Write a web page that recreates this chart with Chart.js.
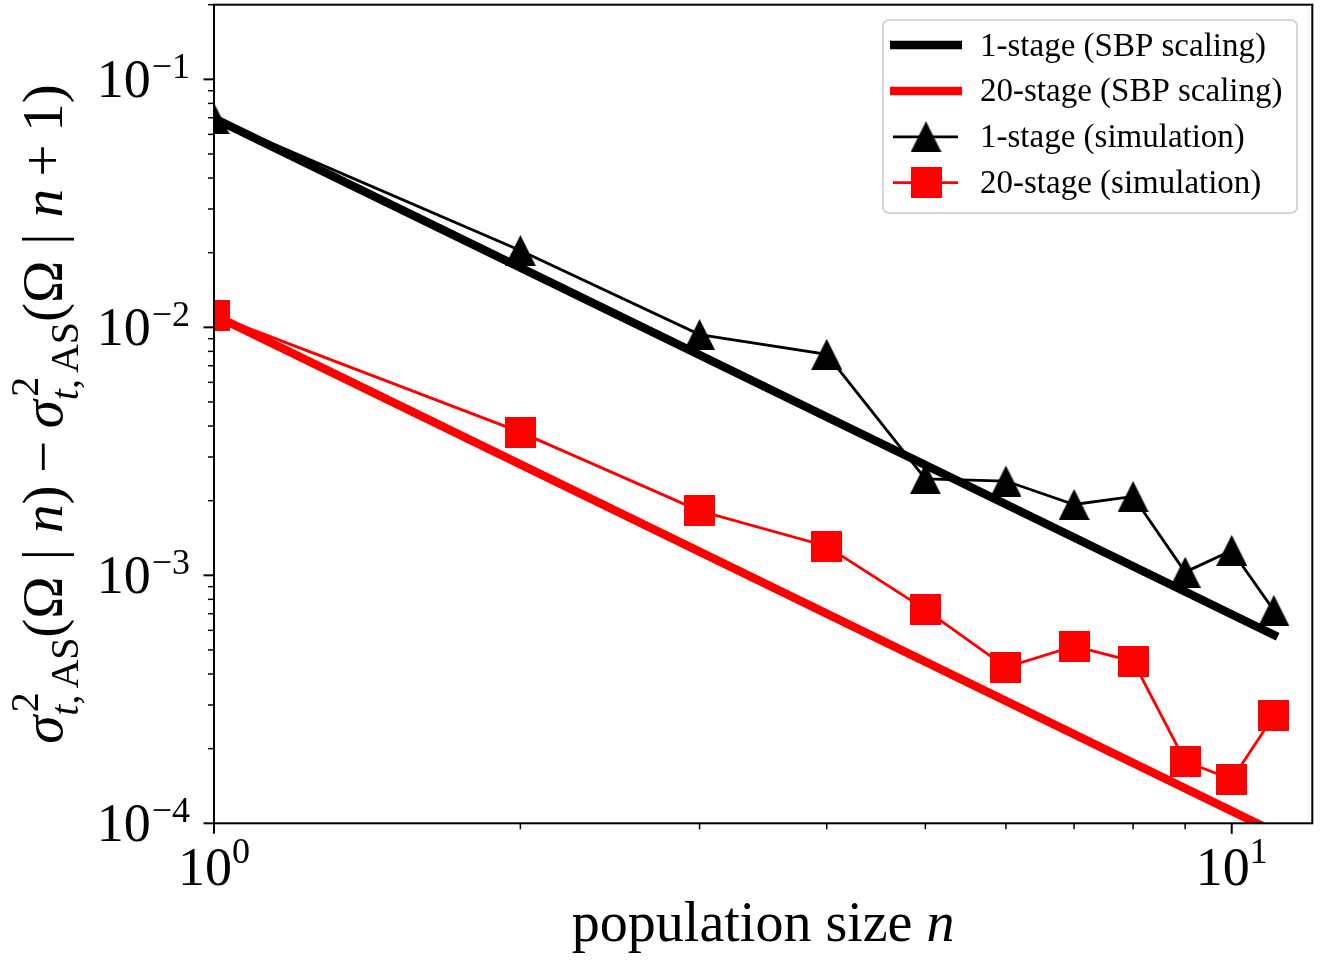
<!DOCTYPE html>
<html>
<head>
<meta charset="utf-8">
<title>population size n</title>
<script src="https://cdn.jsdelivr.net/npm/chart.js@4.4.1/dist/chart.umd.min.js"></script>
<style>
  html, body { margin: 0; padding: 0; background: #fff; }
  #wrap { width: 1323px; height: 960px; }
</style>
</head>
<body>
<div id="wrap"><canvas id="chart" width="1323" height="960"></canvas></div>
<script>
// values (log-log)
const populationSizes = [1, 2, 3, 4, 5, 6, 7, 8, 9, 10, 11];
const sim1Stage = [0.0696, 0.0204, 0.00935, 0.00778, 0.00245, 0.00240, 0.00193, 0.00208, 0.00103, 0.00126, 0.000722];
const sim20Stage = [0.0112, 0.00378, 0.00182, 0.00131, 0.000727, 0.000426, 0.000518, 0.000450, 0.000178, 0.000150, 0.000271];
const sbpEnds = [1, 11];
const sbp1Stage = [0.0696, 0.000575];
const sbp20Stage = [0.0112, 0.0000926];
const seriesLabels = ['1-stage (SBP scaling)', '20-stage (SBP scaling)', '1-stage (simulation)', '20-stage (simulation)'];
const xDecades = [0, 1];
const yDecades = [-4, -3, -2, -1];
const xRange = [1, 12];
const yRange = [1e-4, 0.2];

const FONT = '"Liberation Serif", "Times New Roman", serif';

function setFont(ctx, size, italic) {
    ctx.font = (italic ? 'italic ' : '') + size + 'px ' + FONT;
}

// marker images, centred on their bounding box like matplotlib
function makeMarker(shape, color) {
    const c = document.createElement('canvas');
    c.width = 31; c.height = 31;
    const g = c.getContext('2d');
    g.fillStyle = color;
    if (shape === 'triangle') {
        g.beginPath();
        g.moveTo(15.5, 0);
        g.lineTo(31, 31);
        g.lineTo(0, 31);
        g.closePath();
        g.fill();
    } else {
        g.fillRect(0, 0, 31, 31);
    }
    return c;
}

const triangleMarker = makeMarker('triangle', '#000000');
const squareMarker = makeMarker('square', '#ff0000');

// text made of runs (roman / italic / scripts)
function layoutRuns(ctx, runs, size, draw, x0, y0) {
    let x = x0;
    runs.forEach(r => {
        if (r.gap) { x += r.gap * size; return; }
        if (r.sup !== undefined) {
            const s = size * 0.7;
            setFont(ctx, s, false);
            const wSup = ctx.measureText(r.sup).width;
            if (draw) ctx.fillText(r.sup, x + size * 0.06, y0 - size * 0.42);
            let xs = x;
            r.sub.forEach(p => {
                if (p.gap) { xs += p.gap * s; return; }
                setFont(ctx, s, p.it);
                if (draw) ctx.fillText(p.t, xs, y0 + size * 0.28);
                xs += ctx.measureText(p.t).width;
            });
            x = Math.max(x + wSup + size * 0.06, xs);
            return;
        }
        setFont(ctx, size, r.it);
        if (draw) ctx.fillText(r.t, x, y0);
        x += ctx.measureText(r.t).width;
    });
    return x - x0;
}

const sigmaScript = { sup: '2', sub: [{ t: 't', it: true }, { t: ',' }, { gap: 0.15 }, { t: 'AS' }] };
const yTitleRuns = [
    { t: 'σ', it: true }, sigmaScript, { t: '(Ω' }, { gap: 0.28 }, { t: '|' }, { gap: 0.28 }, { t: 'n', it: true }, { t: ')' },
    { gap: 0.22 }, { t: '−' }, { gap: 0.22 },
    { t: 'σ', it: true }, sigmaScript, { t: '(Ω' }, { gap: 0.28 }, { t: '|' }, { gap: 0.28 }, { t: 'n', it: true },
    { gap: 0.22 }, { t: '+' }, { gap: 0.22 }, { t: '1)' }
];
const xTitleRuns = [{ t: 'population size ' }, { t: 'n', it: true }];

function minorValues(decades, range) {
    const out = [];
    decades.concat([decades[decades.length - 1] + 1]).forEach(p => {
        for (let k = 1; k <= 9; k++) {
            const v = k * Math.pow(10, p);
            if (v >= range[0] * 0.999 && v <= range[1] * 1.001) out.push({ v: v, major: k === 1 });
        }
    });
    return out;
}

const mplAxes = {
    id: 'mplAxes',
    afterDatasetsDraw(chart) {
        const ctx = chart.ctx;
        const a = chart.chartArea;
        const xs = chart.scales.x, ys = chart.scales.y;
        ctx.save();
        ctx.strokeStyle = '#000';
        ctx.fillStyle = '#000';

        // ticks (outward)
        minorValues(xDecades, xRange).forEach(t => {
            const px = xs.getPixelForValue(t.v);
            ctx.lineWidth = t.major ? 2 : 1.5;
            ctx.beginPath();
            ctx.moveTo(px, a.bottom);
            ctx.lineTo(px, a.bottom + (t.major ? 10.5 : 6));
            ctx.stroke();
        });
        minorValues(yDecades, yRange).forEach(t => {
            const py = ys.getPixelForValue(t.v);
            ctx.lineWidth = t.major ? 2 : 1.5;
            ctx.beginPath();
            ctx.moveTo(a.left, py);
            ctx.lineTo(a.left - (t.major ? 10.5 : 6), py);
            ctx.stroke();
        });

        // frame
        ctx.lineWidth = 2;
        ctx.strokeRect(a.left, a.top, a.right - a.left, a.bottom - a.top);

        // tick labels 10^k
        ctx.textBaseline = 'alphabetic';
        ctx.textAlign = 'left';
        xDecades.forEach(p => {
            const px = xs.getPixelForValue(Math.pow(10, p));
            setFont(ctx, 54, false);
            const wMain = ctx.measureText('10').width;
            setFont(ctx, 36, false);
            const wSup = ctx.measureText(String(p)).width;
            const x0 = px - (wMain + wSup) / 2;
            setFont(ctx, 54, false);
            ctx.fillText('10', x0, 885);
            setFont(ctx, 36, false);
            ctx.fillText(String(p), x0 + wMain, 863);
        });
        yDecades.forEach(p => {
            const py = ys.getPixelForValue(Math.pow(10, p));
            const sup = '−' + Math.abs(p);
            setFont(ctx, 36, false);
            const wSup = ctx.measureText(sup).width;
            setFont(ctx, 54, false);
            const wMain = ctx.measureText('10').width;
            const right = 190;
            ctx.fillText('10', right - wSup - wMain - 1, py + 18);
            setFont(ctx, 36, false);
            ctx.fillText(sup, right - wSup, py - 1);
        });

        // axis titles
        const cx = (a.left + a.right) / 2;
        const wx = layoutRuns(ctx, xTitleRuns, 56, false, 0, 0);
        layoutRuns(ctx, xTitleRuns, 56, true, cx - wx / 2, 941);

        ctx.save();
        ctx.translate(62, (a.top + a.bottom) / 2);
        ctx.rotate(-Math.PI / 2);
        const wy = layoutRuns(ctx, yTitleRuns, 57, false, 0, 0);
        layoutRuns(ctx, yTitleRuns, 57, true, -wy / 2, 0);
        ctx.restore();

        ctx.restore();
    },
    afterDraw(chart) {
        // legend, matplotlib style
        const ctx = chart.ctx;
        const box = { l: 883, t: 20, r: 1297, b: 213, rad: 6 };
        ctx.save();
        ctx.beginPath();
        ctx.moveTo(box.l + box.rad, box.t);
        ctx.arcTo(box.r, box.t, box.r, box.b, box.rad);
        ctx.arcTo(box.r, box.b, box.l, box.b, box.rad);
        ctx.arcTo(box.l, box.b, box.l, box.t, box.rad);
        ctx.arcTo(box.l, box.t, box.r, box.t, box.rad);
        ctx.closePath();
        ctx.fillStyle = 'rgba(255,255,255,0.8)';
        ctx.fill();
        ctx.strokeStyle = '#d6d6d6';
        ctx.lineWidth = 2;
        ctx.stroke();

        chart.data.datasets.forEach((ds, i) => {
            const y = 45 + i * 45.9;
            ctx.strokeStyle = ds.borderColor;
            ctx.lineCap = 'butt';
            if (ds.pointStyle instanceof HTMLCanvasElement) {
                ctx.lineWidth = ds.borderWidth;
                ctx.beginPath();
                ctx.moveTo(893, y);
                ctx.lineTo(958, y);
                ctx.stroke();
                const m = ds.pointStyle;
                ctx.drawImage(m, 926 - m.width / 2, y - m.height / 2);
            } else {
                ctx.lineWidth = ds.borderWidth;
                ctx.beginPath();
                ctx.moveTo(890, y);
                ctx.lineTo(962, y);
                ctx.stroke();
            }
            ctx.fillStyle = '#000';
            ctx.textAlign = 'left';
            ctx.textBaseline = 'alphabetic';
            setFont(ctx, 33, false);
            ctx.fillText(ds.label, 980, y + 10.5);
        });
        ctx.restore();
    }
};

function points(xv, yv) {
    return xv.map((x, i) => ({ x: x, y: yv[i] }));
}

new Chart(document.getElementById('chart'), {
    type: 'line',
    data: {
        datasets: [
            {
                label: seriesLabels[0], data: points(sbpEnds, sbp1Stage),
                borderColor: '#000000', borderWidth: 8.5, borderCapStyle: 'square',
                pointRadius: 0, order: 2, clip: 0
            },
            {
                label: seriesLabels[1], data: points(sbpEnds, sbp20Stage),
                borderColor: '#ff0000', borderWidth: 8.5, borderCapStyle: 'square',
                pointRadius: 0, order: 2, clip: 0
            },
            {
                label: seriesLabels[2], data: points(populationSizes, sim1Stage),
                borderColor: '#000000', borderWidth: 2.8,
                pointStyle: triangleMarker, pointRadius: 16, order: 1, clip: 0
            },
            {
                label: seriesLabels[3], data: points(populationSizes, sim20Stage),
                borderColor: '#ff0000', borderWidth: 2.8,
                pointStyle: squareMarker, pointRadius: 16, order: 1, clip: 0
            }
        ]
    },
    options: {
        responsive: false,
        devicePixelRatio: 1,
        animation: false,
        events: [],
        layout: { autoPadding: false, padding: { top: 4.7, right: 10.7, left: 0, bottom: 0 } },
        elements: { line: { tension: 0, fill: false } },
        scales: {
            x: {
                type: 'logarithmic', min: xRange[0], max: xRange[1],
                ticks: { display: false }, grid: { display: false }, border: { display: false },
                afterFit: s => { s.height = 136.7; }
            },
            y: {
                type: 'logarithmic', min: yRange[0], max: yRange[1],
                ticks: { display: false }, grid: { display: false }, border: { display: false },
                afterFit: s => { s.width = 214; }
            }
        },
        plugins: { legend: { display: false }, tooltip: { enabled: false } }
    },
    plugins: [mplAxes]
});
</script>
</body>
</html>
